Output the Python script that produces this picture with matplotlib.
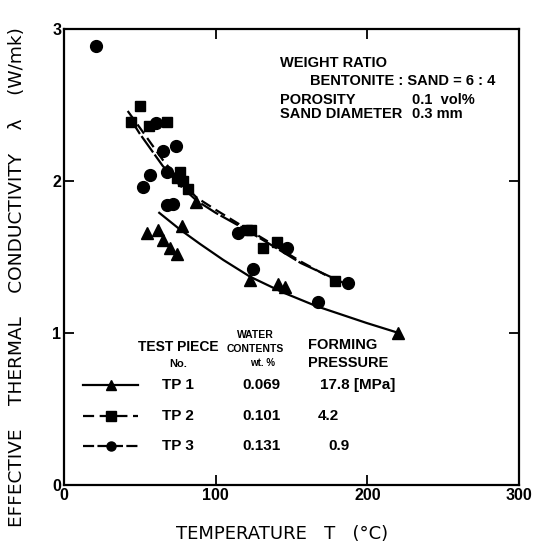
import matplotlib
matplotlib.use("Agg")
import matplotlib.pyplot as plt

# ---------------- data ----------------
tp1_T = [54.9, 61.7, 65.5, 69.9, 74.7, 77.6, 87.0, 122.6, 141.3, 145.7, 220.4]
tp1_L = [1.66, 1.68, 1.61, 1.56, 1.52, 1.70, 1.86, 1.35, 1.32, 1.30, 1.00]

tp2_T = [44.2, 50.1, 56.2, 68.1, 74.3, 76.5, 78.6, 82.0, 120.4, 123.0, 131.4, 140.2, 178.6]
tp2_L = [2.39, 2.49, 2.36, 2.39, 2.02, 2.06, 2.00, 1.95, 1.68, 1.68, 1.56, 1.60, 1.34]

tp3_T = [21.1, 51.9, 56.7, 60.6, 65.5, 68.1, 73.8, 67.7, 72.0, 114.9, 124.8, 146.8, 167.7, 187.4]
tp3_L = [2.89, 1.96, 2.04, 2.38, 2.20, 2.06, 2.23, 1.84, 1.85, 1.66, 1.42, 1.56, 1.20, 1.33]

# fitted curves as drawn in the reference
tp1_curve_T = [62.8, 76.5, 89.7, 105.0, 122.6, 144.6, 166.6, 199.5, 220.4]
tp1_curve_L = [1.79, 1.68, 1.585, 1.48, 1.37, 1.265, 1.175, 1.065, 1.00]
tp2_curve_T = [42.0, 50.0, 55.0, 65.0, 76.5, 87.5, 100.0, 118.0, 138.0, 156.0, 178.0]
tp2_curve_L = [2.46, 2.35, 2.28, 2.14, 2.00, 1.89, 1.81, 1.70, 1.58, 1.47, 1.35]
tp3_curve_T = [43.0, 50.0, 55.0, 65.0, 76.5, 87.5, 100.0, 118.0, 138.0, 156.0, 184.0]
tp3_curve_L = [2.42, 2.31, 2.24, 2.10, 1.97, 1.87, 1.79, 1.69, 1.57, 1.46, 1.33]

x_ticks = [0, 100, 200, 300]
y_ticks = [0, 1, 2, 3]

pieces = ["TP 1", "TP 2", "TP 3"]
water = ["0.069", "0.101", "0.131"]
pressure = ["17.8 [MPa]", "4.2", "0.9"]

# ---------------- figure ----------------
FONT = "Liberation Sans"
fig = plt.figure(figsize=(5.33, 5.46), dpi=100)
ax = fig.add_axes([0.120, 0.112, 0.854, 0.835])
ax.set_xlim(0, 300)
ax.set_ylim(0, 3)

lw = 1.6
ax.plot(tp1_curve_T, tp1_curve_L, color="black", lw=lw, ls="-")
ax.plot(tp2_curve_T, tp2_curve_L, color="black", lw=lw, ls=(0, (5, 2.5)))
ax.plot(tp3_curve_T, tp3_curve_L, color="black", lw=lw, ls=(0, (9, 1.2)))

ax.plot(tp1_T, tp1_L, ls="none", marker="^", ms=8, color="black")
ax.plot(tp2_T, tp2_L, ls="none", marker="s", ms=7.5, color="black")
ax.plot(tp3_T, tp3_L, ls="none", marker="o", ms=8.5, color="black")

for s in ax.spines.values():
    s.set_linewidth(1.6)

ax.set_xticks(x_ticks)
ax.set_yticks(y_ticks)
ax.tick_params(direction="in", length=7.5, width=1.3, top=True, right=True,
               pad=2, labelsize=11.5)
for lab in ax.get_xticklabels() + ax.get_yticklabels():
    lab.set_fontfamily(FONT)
    lab.set_fontweight("bold")
# hide tick marks at the corners
for t in ax.xaxis.get_major_ticks():
    if t.get_loc() in (0, 300):
        t.tick1line.set_visible(False)
        t.tick2line.set_visible(False)
for t in ax.yaxis.get_major_ticks():
    if t.get_loc() in (0, 3):
        t.tick1line.set_visible(False)
        t.tick2line.set_visible(False)

ax.set_xlabel("TEMPERATURE   T   (°C)", fontsize=13, family="DejaVu Sans")
ax.xaxis.set_label_coords(0.48, -0.087)
ax.set_ylabel("EFFECTIVE    THERMAL    CONDUCTIVITY    λ    (W/mk)",
              fontsize=13.3, family="DejaVu Sans")
ax.yaxis.set_label_coords(-0.083, 0.455)

# ---------------- condition annotation ----------------
tk = dict(transform=ax.transAxes, family=FONT, fontweight="bold", fontsize=10.5,
          va="center", ha="left")
ax.text(0.475, 0.926, "WEIGHT RATIO", **tk)
ax.text(0.541, 0.886, "BENTONITE : SAND = 6 : 4", **tk)
ax.text(0.475, 0.844, "POROSITY", **tk)
ax.text(0.765, 0.844, "0.1  vol%", **tk)
ax.text(0.475, 0.813, "SAND DIAMETER", **tk)
ax.text(0.765, 0.813, "0.3 mm", **tk)

# ---------------- legend table ----------------
th = dict(transform=ax.transAxes, family=FONT, fontweight="bold", va="center")
ax.text(0.251, 0.303, "TEST PIECE", ha="center", fontsize=10, **th)
ax.text(0.251, 0.265, "No.", ha="center", fontsize=8, **th)
ax.text(0.420, 0.329, "WATER", ha="center", fontsize=7.5, **th)
ax.text(0.420, 0.298, "CONTENTS", ha="center", fontsize=7.5, **th)
ax.text(0.437, 0.268, "wt. %", ha="center", fontsize=7, **th)
ax.text(0.536, 0.307, "FORMING", ha="left", fontsize=10.5, **th)
ax.text(0.536, 0.268, "PRESSURE", ha="left", fontsize=10.5, **th)

rows_y = [0.218, 0.150, 0.086]
styles = [("-", "^"), ((0, (5, 2.5)), "s"), ((0, (5, 1.5)), "o")]
press_x = [0.563, 0.558, 0.580]
for i in range(3):
    y = rows_y[i]
    ls, mk = styles[i]
    ax.plot([0.042, 0.163], [y, y], transform=ax.transAxes, color="black",
            lw=lw, ls=ls, clip_on=False)
    ax.plot([0.103], [y], transform=ax.transAxes, color="black", marker=mk,
            ms=6.5, ls="none", clip_on=False)
    ax.text(0.215, y, pieces[i], ha="left", fontsize=11, **th)
    ax.text(0.434, y, water[i], ha="center", fontsize=11, **th)
    ax.text(press_x[i], y, pressure[i], ha="left", fontsize=11, **th)

fig.savefig("out.png", dpi=100)
